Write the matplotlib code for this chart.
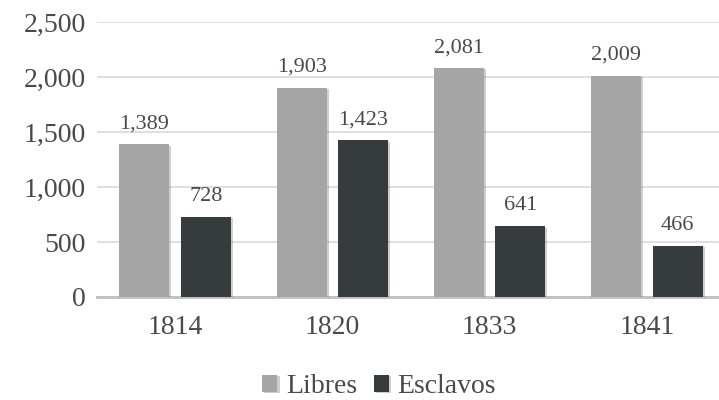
import matplotlib.pyplot as plt
import matplotlib.patheffects as pe
import numpy as np

years = ['1814', '1820', '1833', '1841']
libres = [1389, 1903, 2081, 2009]
esclavos = [728, 1423, 641, 466]

plt.rcParams['font.family'] = ['Liberation Serif', 'DejaVu Serif']

fig = plt.figure(figsize=(7.19, 4.0), dpi=100)
ax = fig.add_axes([97 / 719, 1 - 297 / 400, 1 - 97 / 719, 275 / 400])

x = np.arange(len(years))
w = 0.318
shadow = [pe.SimplePatchShadow(offset=(1.5, -1), shadow_rgbFace='#777777', alpha=0.35), pe.Normal()]
b1 = ax.bar(x - 0.195, libres, w, color='#A5A5A5', label='Libres', zorder=3)
b2 = ax.bar(x + 0.195, esclavos, w, color='#363B3E', label='Esclavos', zorder=3)
for b in list(b1) + list(b2):
    b.set_path_effects(shadow)

for bars in (b1, b2):
    for b in bars:
        ax.text(b.get_x() + b.get_width() / 2, b.get_height() + 100, f'{int(b.get_height()):,}',
                ha='center', va='bottom', fontsize=16, color='#4a4a4a')

ax.set_ylim(0, 2500)
ax.set_xlim(-0.496, 3.458)
ax.set_yticks(range(0, 2501, 500))
ax.set_yticklabels([f'{v:,}' for v in range(0, 2501, 500)])
ax.set_xticks(x)
ax.set_xticklabels(years)
ax.yaxis.grid(True, color='#D9D9D9', linewidth=1.2, zorder=0)
ax.set_axisbelow(True)
for s in ['top', 'right', 'left']:
    ax.spines[s].set_visible(False)
ax.spines['bottom'].set_color('#BFBFBF')
ax.spines['bottom'].set_linewidth(2)
ax.tick_params(axis='both', length=0, labelsize=20, colors='#4a4a4a')
ax.tick_params(axis='y', pad=8)
ax.tick_params(axis='x', pad=13)

fig.legend(handles=[b1, b2], loc='center', bbox_to_anchor=(0.527, 0.033), ncol=2, frameon=False,
           fontsize=20, handlelength=0.55, handleheight=0.55, handletextpad=0.3, columnspacing=0.6,
           labelcolor='#4a4a4a')

fig.savefig('out.png', dpi=100)
